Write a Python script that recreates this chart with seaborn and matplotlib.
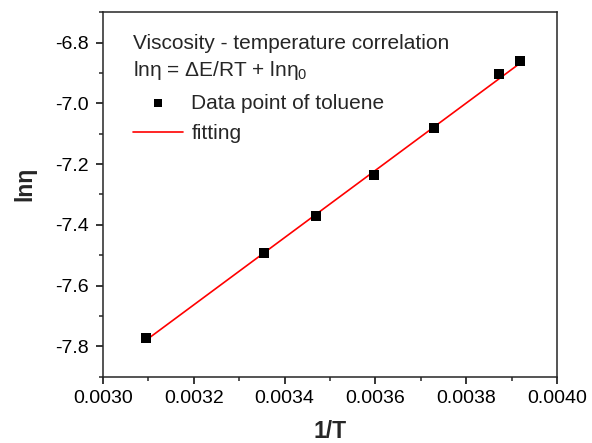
import numpy as np
import pandas as pd
import seaborn as sns
import matplotlib.pyplot as plt
from matplotlib.ticker import MultipleLocator

# data
inv_T = [0.003095, 0.003354, 0.003470, 0.003596, 0.003730, 0.003872, 0.003918]
ln_eta = [-7.773, -7.494, -7.370, -7.235, -7.082, -6.904, -6.861]

# end points of the fitted line
fit_x = [0.003095, 0.003918]
fit_y = [-7.780, -6.868]

sns.set_style("ticks")
plt.rcParams["font.family"] = ["Liberation Sans", "DejaVu Sans"]
plt.rcParams["axes.linewidth"] = 1.1

points = pd.DataFrame({"x": inv_T, "y": ln_eta})
fit = pd.DataFrame({"x": fit_x, "y": fit_y})

fig = plt.figure(figsize=(5.92, 4.43), dpi=100)
ax = fig.add_axes([0.174, 0.150, 0.767, 0.822])

sns.lineplot(data=fit, x="x", y="y", ax=ax, color="#ff0000", lw=1.2,
             label="fitting", zorder=2)
sns.scatterplot(data=points, x="x", y="y", ax=ax, marker="s", s=46,
                color="black", edgecolor="black", linewidth=0,
                label="Data point of toluene", zorder=3)

ax.set_xlim(0.0030, 0.0040)
ax.set_ylim(-7.9, -6.7)
ax.xaxis.set_major_locator(MultipleLocator(0.0002))
ax.xaxis.set_minor_locator(MultipleLocator(0.0001))
ax.yaxis.set_major_locator(MultipleLocator(0.2))
ax.yaxis.set_minor_locator(MultipleLocator(0.1))
ax.xaxis.set_major_formatter(lambda v, p: f"{v:.4f}")
ax.yaxis.set_major_formatter(lambda v, p: f"{v:.1f}")
ax.tick_params(which="major", direction="out", length=5, width=1.1,
               labelsize=14, pad=5, colors="black")
ax.tick_params(which="minor", direction="out", length=3, width=1.1)

ax.set_xlabel("1/T", fontsize=16.5, fontweight="bold", labelpad=9)
ax.set_ylabel("lnη", fontsize=16.5, fontweight="bold", labelpad=14)
ax.yaxis.label.set_y(0.53)

handles, labels = ax.get_legend_handles_labels()
order = [1, 0]
leg = ax.legend([handles[i] for i in order], [labels[i] for i in order],
                title="Viscosity - temperature correlation\nlnη = ΔE/RT + lnη$\\mathregular{_0}$",
                loc="upper left", bbox_to_anchor=(0.066, 0.942), frameon=False,
                fontsize=15, title_fontsize=15, alignment="left",
                handlelength=2.4, handletextpad=0.4, labelspacing=0.55,
                borderpad=0, borderaxespad=0)
leg.get_title().set_linespacing(1.4)
leg.legend_handles[0].set_sizes([30])

fig.savefig("out.png", dpi=100)
